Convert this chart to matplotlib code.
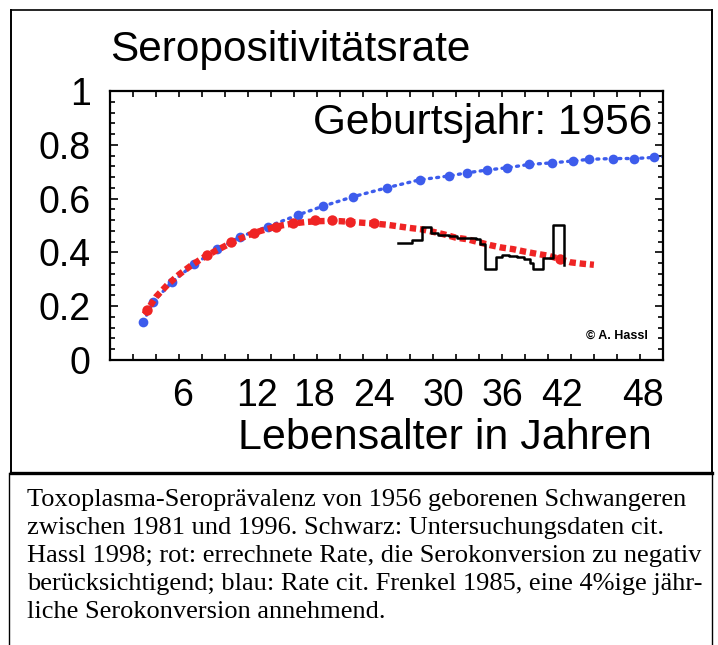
import matplotlib
matplotlib.use('Agg')
from matplotlib import pyplot as plt
from matplotlib.ticker import MultipleLocator, NullFormatter
from matplotlib.lines import Line2D

# Frenkel 1985, 4 % annual seroconversion (blue)
blue_age = [2.9, 3.7, 5.4, 7.3, 9.3, 11.3, 13.7, 16.3, 18.5, 21.1, 24.0, 26.9,
            29.4, 31.0, 32.7, 34.5, 36.4, 38.4, 40.2, 41.6, 43.7, 45.5, 47.2, 48.0]
blue_val = [0.142, 0.214, 0.291, 0.356, 0.411, 0.458, 0.496, 0.539, 0.572, 0.607, 0.640, 0.670,
            0.684, 0.696, 0.706, 0.715, 0.727, 0.733, 0.740, 0.746, 0.749, 0.749, 0.753, 0.755]

# computed rate incl. seroconversion to negative (red)
red_age = list(range(3, 43))
red_val = [0.170, 0.235, 0.280, 0.318, 0.350, 0.378, 0.402, 0.424, 0.446, 0.464,
           0.479, 0.491, 0.501, 0.508, 0.513, 0.516, 0.517, 0.516, 0.513, 0.510,
           0.507, 0.503, 0.497, 0.491, 0.486, 0.477, 0.467, 0.455, 0.449, 0.438,
           0.427, 0.418, 0.412, 0.403, 0.395, 0.388, 0.376, 0.363, 0.358, 0.354]
red_circle_age = [3.2, 8.4, 10.5, 12.5, 14.4, 15.9, 17.8, 19.3, 20.8, 22.9, 39.1]
red_circle_val = [0.186, 0.390, 0.440, 0.471, 0.496, 0.511, 0.520, 0.520, 0.514, 0.508, 0.375]

# screening data Hassl 1998 (black, step start ages)
black_age = [25.0, 26.2, 27.06, 27.9, 28.5, 29.4, 30.1, 31.8, 32.1, 32.55, 33.5,
             34.0, 34.6, 35.3, 35.9, 36.46, 36.7, 37.56, 38.48, 39.45]
black_val = [0.436, 0.446, 0.496, 0.471, 0.465, 0.461, 0.452, 0.448, 0.433, 0.340, 0.384,
             0.390, 0.387, 0.384, 0.374, 0.359, 0.340, 0.380, 0.502, 0.353]

xtick_labels = ['6', '12', '18', '24', '30', '36', '42', '48']
ytick_vals = [0, 0.2, 0.4, 0.6, 0.8, 1]
ytick_labels = ['0', '0.2', '0.4', '0.6', '0.8', '1']

caption_lines = [
    'Toxoplasma-Seroprävalenz von 1956 geborenen Schwangeren',
    'zwischen 1981 und 1996. Schwarz: Untersuchungsdaten cit.',
    'Hassl 1998; rot: errechnete Rate, die Serokonversion zu negativ',
    'berücksichtigend; blau: Rate cit. Frenkel 1985, eine 4%ige jähr-',
    'liche Serokonversion annehmend.',
]

BLUE = '#3d5cec'
RED = '#ef2424'
SANS = ['Liberation Sans', 'DejaVu Sans']
SERIF = ['Liberation Serif', 'DejaVu Serif']

fig = plt.figure(figsize=(7.18, 6.45), dpi=100)
ax = fig.add_axes([110 / 718, 1 - 360 / 645, 553 / 718, 269 / 645])

ax.plot(blue_age, blue_val, color=BLUE, lw=2.4, linestyle=(0, (0.6, 1.6)),
        dash_capstyle='round', zorder=2)
ax.plot(blue_age[:-1], blue_val[:-1], 'o', color=BLUE, ms=7, mew=0, zorder=3)
ax.plot(red_age, red_val, color=RED, lw=4.6, linestyle=(0, (1, 0.6)), zorder=4)
ax.plot(red_circle_age, red_circle_val, 'o', color=RED, ms=7.5, mew=0, zorder=5)
ax.step(black_age, black_val, where='post', color='black', lw=1.8, zorder=6)

ax.set_xlim(0, 48)
ax.set_ylim(0, 1)
for sp in ax.spines.values():
    sp.set_linewidth(1.6)

ax.xaxis.set_major_locator(MultipleLocator(2))
ax.xaxis.set_major_formatter(NullFormatter())
ax.set_yticks(ytick_vals, ytick_labels, fontsize=27, family=SANS)
ax.yaxis.set_minor_locator(MultipleLocator(0.04))
ax.tick_params(axis='both', which='both', direction='in', top=True, right=True,
               width=1.2, color='black')
ax.tick_params(axis='x', which='major', length=4)
ax.tick_params(axis='y', which='major', length=6, pad=14)
ax.tick_params(axis='y', which='minor', length=3.5)

# hand-placed age labels below the axis
label_x = [6.3, 12.8, 17.7, 22.9, 28.9, 34.1, 39.2, 46.3]
for xv, lab in zip(label_x, xtick_labels):
    ax.text(xv, -0.135, lab, transform=ax.get_xaxis_transform(), ha='center',
            va='center', fontsize=27, family=SANS)

fig.text(445 / 718, 1 - 438 / 645, 'Lebensalter in Jahren', ha='center', va='center',
         fontsize=31, family=SANS)
fig.text(110 / 718, 1 - 50 / 645, 'Seropositivitätsrate', ha='left', va='center',
         fontsize=30.5, family=SANS)
ax.text(652 / 718, 1 - 123 / 645, 'Geburtsjahr: 1956', transform=fig.transFigure,
        ha='right', va='center', fontsize=30.5, family=SANS)
ax.text(648 / 718, 1 - 336 / 645, '© A. Hassl', transform=fig.transFigure,
        ha='right', va='center', fontsize=9, fontweight='bold', family=SANS)

# frames around the chart and the caption
def fline(x0, y0, x1, y1, lw):
    fig.add_artist(Line2D([x0 / 718, x1 / 718], [1 - y0 / 645, 1 - y1 / 645],
                          color='black', lw=lw, solid_capstyle='projecting'))

fline(11, 10, 712, 10, 1.2)
fline(11, 10, 11, 473, 1.4)
fline(712, 10, 712, 473, 1.4)
fline(11, 473, 712, 473, 2.4)
fline(9, 473, 9, 645, 1.0)
fline(712, 473, 712, 645, 1.0)

# caption, one baseline every 28 px
for i, line in enumerate(caption_lines):
    fig.text(27 / 718, 1 - (506 + 28 * i) / 645, line, ha='left', va='baseline',
             fontsize=19, family=SERIF)

fig.savefig('out.png', dpi=100)
